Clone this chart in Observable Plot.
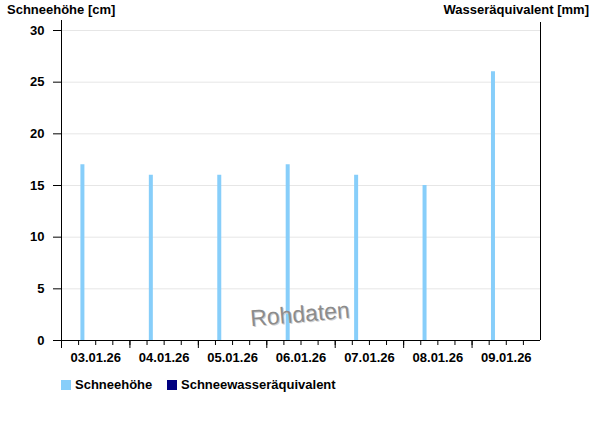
<!DOCTYPE html>
<html>
<head>
<meta charset="utf-8">
<script src="https://cdn.jsdelivr.net/npm/d3@7"></script>
<script src="https://cdn.jsdelivr.net/npm/@observablehq/plot@0.6"></script>
<style>
  html, body { margin: 0; padding: 0; background: #fff; }
  #wrap { position: relative; width: 600px; height: 426px; font-family: "Liberation Sans", Arial, sans-serif; font-weight: bold; font-size: 13px; color: #000; }
  #wrap svg { position: absolute; left: 0; top: 0; }
  .ttl { position: absolute; top: 2px; line-height: 16px; white-space: nowrap; }
  .leg { position: absolute; top: 377px; line-height: 16px; white-space: nowrap; display: flex; align-items: center; }
  .sw { width: 10px; height: 10px; margin-right: 4px; display: inline-block; }
  #wm { position: absolute; left: 250px; top: 301px; line-height: 26px; font-family: "Liberation Sans", Arial, sans-serif; font-weight: normal; font-size: 23px; color: #8c8c8c; transform: rotate(-5deg); transform-origin: center; text-shadow: 1px 1px 0 #d0d0d0; white-space: nowrap; }
</style>
</head>
<body>
<div id="wrap">
  <div class="ttl" style="left:7px;">Schneehöhe [cm]</div>
  <div class="ttl" style="right:11px;">Wasseräquivalent [mm]</div>
  <div id="wm">Rohdaten</div>
</div>
<script>
// ---- data ----
const dayLabels = ["03.01.26", "04.01.26", "05.01.26", "06.01.26", "07.01.26", "08.01.26", "09.01.26"];
const measureTimes = ["2026-01-03T07:20Z", "2026-01-04T07:20Z", "2026-01-05T07:20Z", "2026-01-06T07:20Z", "2026-01-07T07:20Z", "2026-01-08T07:20Z", "2026-01-09T07:20Z"];
const snowDepth = [17, 16, 16, 17, 16, 15, 26];
const yTicks = [0, 5, 10, 15, 20, 25, 30];
const seriesNames = ["Schneehöhe", "Schneewasseräquivalent"];
const seriesColors = ["#87cefa", "#000080"];

// ---- derived ----
const parseDay = d3.utcParse("%d.%m.%y");
const dayStarts = dayLabels.map(parseDay);
const start = dayStarts[0];
const end = d3.utcDay.offset(dayStarts[dayStarts.length - 1], 1);
const noon = dayStarts.map(d => d3.utcHour.offset(d, 12));
const labelByTime = new Map(noon.map((d, i) => [+d, dayLabels[i]]));
const sixHour = d3.utcHour.every(6).range(start, end);
const bars = measureTimes.map((t, i) => ({t: new Date(t), v: snowDepth[i]}));

const chart = Plot.plot({
  width: 600,
  height: 426,
  marginTop: 30,
  marginBottom: 86,
  marginLeft: 61,
  marginRight: 60,
  style: {fontFamily: "'Liberation Sans', Arial, sans-serif", fontSize: "13px", fontWeight: "bold", color: "#000", background: "transparent"},
  x: {type: "utc", domain: [start, end]},
  y: {domain: [0, 30]},
  marks: [
    Plot.gridY(yTicks.filter(d => d > 0), {stroke: "#e6e6e6", strokeOpacity: 1}),
    Plot.ruleX(bars, {x: "t", y1: 0, y2: "v", stroke: seriesColors[0], strokeWidth: 4}),
    Plot.ruleY([0], {stroke: "#000"}),
    Plot.ruleX([start], {stroke: "#000", insetTop: -10}),
    Plot.ruleX([end], {stroke: "#000", insetTop: -8}),
    Plot.axisY(yTicks, {tickSize: 8, tickPadding: 9, stroke: "#000", label: null}),
    Plot.axisX(sixHour, {tickSize: 5, tickFormat: () => "", label: null}),
    Plot.axisX(dayStarts, {tickSize: 8, tickFormat: () => "", label: null}),
    Plot.axisX(noon, {tickSize: 0, tickPadding: 12, tickFormat: d => labelByTime.get(+d), label: null})
  ]
});
document.getElementById("wrap").prepend(chart);

// legend
const wrap = document.getElementById("wrap");
const legLefts = [61, 167];
seriesNames.forEach((name, i) => {
  const item = document.createElement("div");
  item.className = "leg";
  item.style.left = legLefts[i] + "px";
  item.innerHTML = `<span class="sw" style="background:${seriesColors[i]}"></span><span>${name}</span>`;
  wrap.appendChild(item);
});
</script>
</body>
</html>
